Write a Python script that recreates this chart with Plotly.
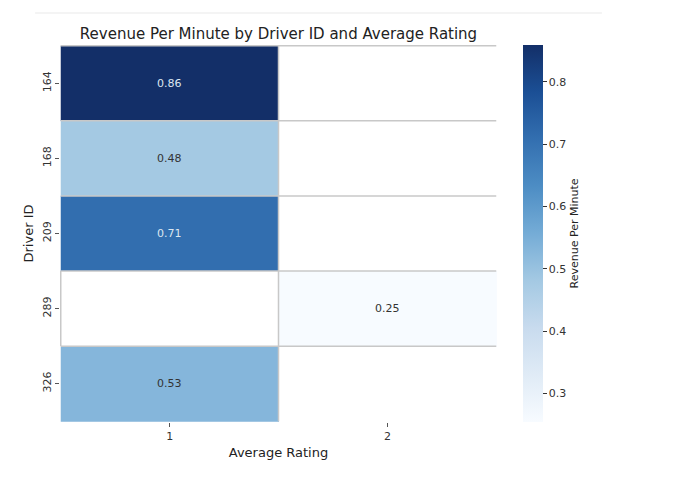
import plotly.graph_objects as go

# Data
driver_ids = ["164", "168", "209", "289", "326"]
ratings = ["1", "2"]
rev_rating_1 = [0.859, 0.48, 0.71, None, 0.53]
rev_rating_2 = [None, None, None, 0.254, None]

z = [[a, b] for a, b in zip(rev_rating_1, rev_rating_2)]

blues = ["#f7fbff", "#e0ebf6", "#c8dbee", "#a4c9e3", "#75acd6",
         "#4d8dc4", "#336fb0", "#1b4f95", "#132f68"]
colorscale = [[i / (len(blues) - 1), c] for i, c in enumerate(blues)]

vals = [v for row in z for v in row if v is not None]
zmin, zmax = min(vals), max(vals)

FONT = "DejaVu Sans"
fig = go.Figure()
fig.add_trace(go.Heatmap(
    z=z, x=ratings, y=driver_ids,
    colorscale=colorscale, zmin=zmin, zmax=zmax,
    hoverongaps=False,
    colorbar=dict(
        x=1.0595, xanchor="left", xpad=0, y=0.5, yanchor="middle",
        len=1, lenmode="fraction", thickness=20, ypad=0,
        outlinewidth=0,
        ticks="outside", ticklen=4, tickwidth=1, tickcolor="#333",
        tickvals=[0.3, 0.4, 0.5, 0.6, 0.7, 0.8],
        tickfont=dict(family=FONT, size=11, color="#333"),
        title=dict(text="Revenue Per Minute", side="right",
                   font=dict(family=FONT, size=11, color="#222")),
    ),
))

# Cell annotations
annotations = []
for i, d in enumerate(driver_ids):
    for j, r in enumerate(ratings):
        v = z[i][j]
        if v is None:
            continue
        frac = (v - zmin) / (zmax - zmin)
        col = "#dce6f0" if frac > 0.6 else "#333333"
        annotations.append(dict(x=j, y=i, xref="x", yref="y", text=f"{v:.2f}",
                                showarrow=False,
                                font=dict(family=FONT, size=11, color=col)))

# Cell edge lines
shapes = []
lc = "#c8c8c8"
nrows, ncols = len(driver_ids), len(ratings)
for i in range(nrows):
    shapes.append(dict(type="line", xref="x", yref="y",
                       x0=-0.5, x1=ncols - 0.5, y0=i - 0.5, y1=i - 0.5,
                       line=dict(color=lc, width=1.5)))
for j in range(1, ncols):
    shapes.append(dict(type="line", xref="x", yref="y",
                       x0=j - 0.5, x1=j - 0.5, y0=-0.5, y1=nrows - 0.5,
                       line=dict(color=lc, width=1.5)))
for i in range(nrows):
    if z[i][0] is None:
        shapes.append(dict(type="line", xref="x", yref="y",
                           x0=-0.5, x1=-0.5, y0=i - 0.5, y1=i + 0.5,
                           line=dict(color=lc, width=1.5)))
# faint screenshot rule at top
shapes.append(dict(type="line", xref="paper", yref="paper",
                   x0=-0.057, x1=1.24, y0=1.085, y1=1.085,
                   line=dict(color="#f0f0f0", width=1.5), layer="below"))

fig.update_layout(
    width=676, height=504,
    margin=dict(l=52, r=187, t=37, b=90),
    paper_bgcolor="white", plot_bgcolor="white",
    title=dict(text="Revenue Per Minute by Driver ID and Average Rating",
               x=(52 + 489) / 2 / 676, xanchor="center",
               y=1 - 26 / 504, yanchor="middle",
               font=dict(family=FONT, size=15, color="#222")),
    xaxis=dict(type="category", showgrid=False, zeroline=False,
               ticks="outside", ticklen=4, tickcolor="#555",
               tickfont=dict(family=FONT, size=11, color="#333"),
               title=dict(text="Average Rating", standoff=5,
                          font=dict(family=FONT, size=13, color="#222"))),
    yaxis=dict(type="category", autorange="reversed", showgrid=False,
               zeroline=False, ticks="outside", ticklen=4, tickcolor="#555",
               tickangle=-90,
               tickfont=dict(family=FONT, size=11, color="#333"),
               title=dict(text="Driver ID", standoff=4,
                          font=dict(family=FONT, size=13, color="#222"))),
    annotations=annotations,
    shapes=shapes,
)

fig.write_html("out.html")
